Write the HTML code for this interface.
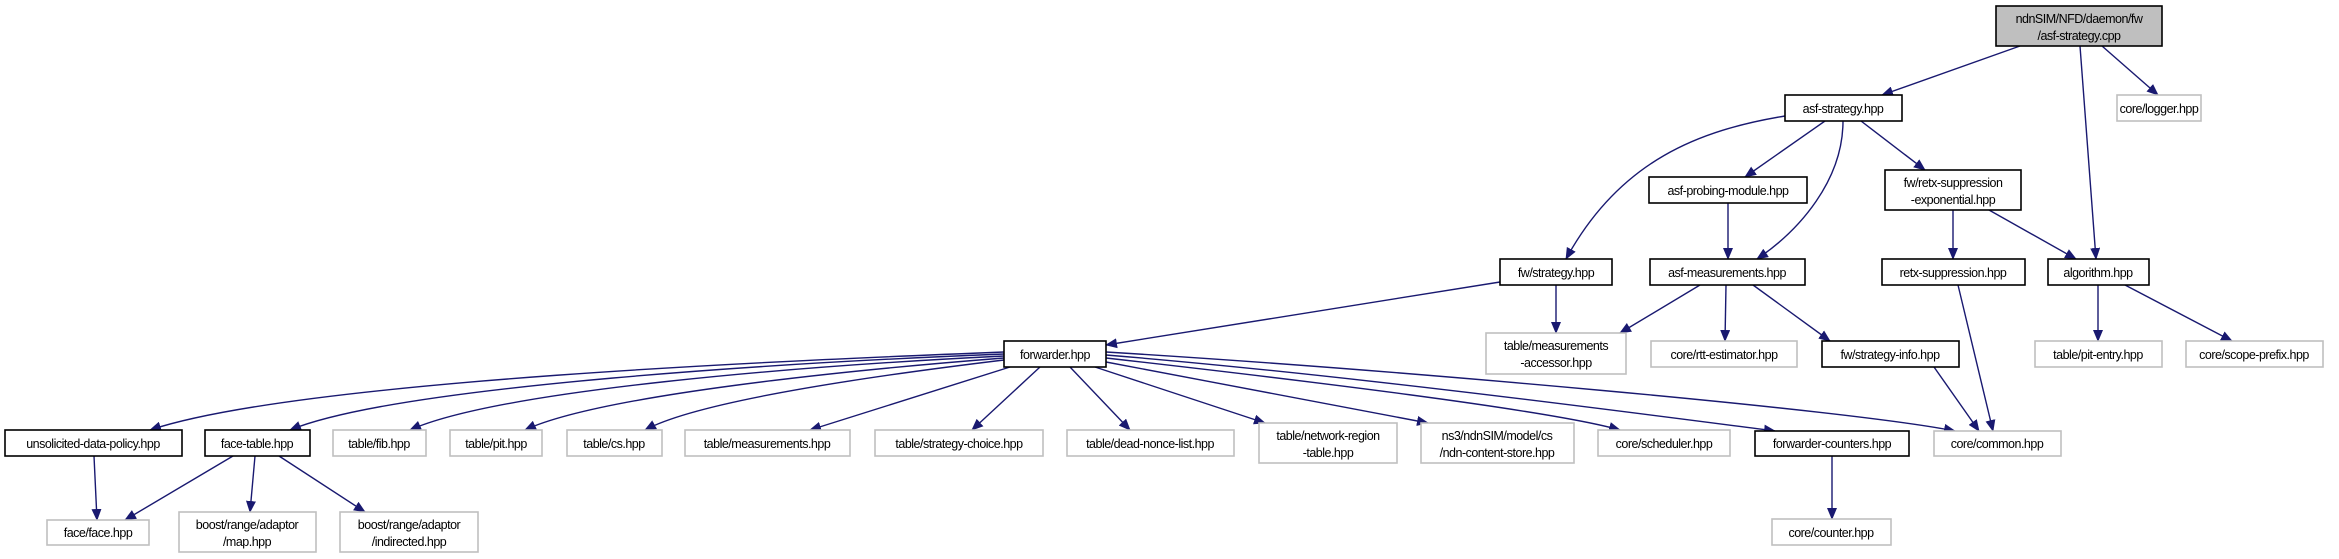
<!DOCTYPE html>
<html><head><meta charset="utf-8"><style>
html,body{margin:0;padding:0;background:#fff;}
svg{display:block;}
text{font-family:"Liberation Sans",sans-serif;font-size:12.5px;letter-spacing:-0.5px;fill:#000;text-anchor:middle;}
.b{fill:#fff;stroke:#000;stroke-width:1.6;}
.g{fill:#fff;stroke:#bfbfbf;stroke-width:1.6;}
.e{fill:none;stroke:#191970;stroke-width:1.4;}
</style></head><body>
<svg width="2339" height="559" viewBox="0 0 2339 559" xmlns="http://www.w3.org/2000/svg">
<defs><marker id="a" markerWidth="12" markerHeight="10" refX="11" refY="5" orient="auto" markerUnits="userSpaceOnUse"><path d="M0,0 L12,5 L0,10 z" fill="#191970"/></marker></defs>
<g class="e" marker-end="url(#a)">
<path d="M2020,46 L1882,95"/>
<path d="M2080,46 L2096,259"/>
<path d="M2102,46 L2158,95"/>
<path d="M1785,116 C1700,130 1620,160 1566,259"/>
<path d="M1825,121 L1745,177"/>
<path d="M1843,121 C1843,180 1800,230 1757,259"/>
<path d="M1861,121 L1925,170"/>
<path d="M1953,210 L1953,259"/>
<path d="M1989,210 L2076,259"/>
<path d="M1728,203 L1728,259"/>
<path d="M1500,282 L1106,345"/>
<path d="M1556,285 L1556,333"/>
<path d="M1700,285 L1620,333"/>
<path d="M1726,285 L1725,341"/>
<path d="M1753,285 L1830,341"/>
<path d="M1934,367 L1979,431"/>
<path d="M1958,285 L1993,431"/>
<path d="M2098,285 L2098,341"/>
<path d="M2125,285 L2232,341"/>
<path d="M1832,456 L1832,519"/>
<path d="M233,456 L125,520"/>
<path d="M255,456 L250,512"/>
<path d="M279,456 L365,512"/>
<path d="M94,456 L97,520"/>
<path d="M1004,352 C800,360 300,380 150,430"/>
<path d="M1004,354 C800,362 400,385 290,430"/>
<path d="M1004,356 C800,366 500,390 410,430"/>
<path d="M1004,358 C850,370 600,395 525,430"/>
<path d="M1004,360 C880,375 700,400 645,430"/>
<path d="M1010,367 L810,430"/>
<path d="M1040,367 L972,430"/>
<path d="M1070,367 L1130,430"/>
<path d="M1095,367 L1265,423"/>
<path d="M1106,362 L1428,423"/>
<path d="M1106,358 C1300,380 1550,410 1620,430"/>
<path d="M1106,355 C1350,375 1650,415 1775,431"/>
<path d="M1106,352 C1400,370 1850,410 1955,431"/>
</g>
<rect x="1996" y="6" width="166" height="40" fill="#bfbfbf" stroke="#000" stroke-width="1.6"/>
<text x="2079" y="23">ndnSIM/NFD/daemon/fw</text><text x="2079" y="40">/asf-strategy.cpp</text>
<rect class="b" x="1785" y="95" width="117" height="26"/><text x="1843" y="113">asf-strategy.hpp</text>
<rect class="g" x="2117" y="95" width="84" height="26"/><text x="2159" y="113">core/logger.hpp</text>
<rect class="b" x="1649" y="177" width="158" height="26"/><text x="1728" y="195">asf-probing-module.hpp</text>
<rect class="b" x="1885" y="170" width="136" height="40"/><text x="1953" y="187">fw/retx-suppression</text><text x="1953" y="204">-exponential.hpp</text>
<rect class="b" x="1500" y="259" width="112" height="26"/><text x="1556" y="277">fw/strategy.hpp</text>
<rect class="b" x="1650" y="259" width="155" height="26"/><text x="1727" y="277">asf-measurements.hpp</text>
<rect class="b" x="1882" y="259" width="143" height="26"/><text x="1953" y="277">retx-suppression.hpp</text>
<rect class="b" x="2048" y="259" width="101" height="26"/><text x="2098" y="277">algorithm.hpp</text>
<rect class="b" x="1004" y="341" width="102" height="26"/><text x="1055" y="359">forwarder.hpp</text>
<rect class="g" x="1486" y="333" width="140" height="41"/><text x="1556" y="350">table/measurements</text><text x="1556" y="367">-accessor.hpp</text>
<rect class="g" x="1651" y="341" width="146" height="26"/><text x="1724" y="359">core/rtt-estimator.hpp</text>
<rect class="b" x="1822" y="341" width="137" height="26"/><text x="1890" y="359">fw/strategy-info.hpp</text>
<rect class="g" x="2035" y="341" width="127" height="26"/><text x="2098" y="359">table/pit-entry.hpp</text>
<rect class="g" x="2186" y="341" width="137" height="26"/><text x="2254" y="359">core/scope-prefix.hpp</text>
<rect class="b" x="5" y="430" width="177" height="26"/><text x="93" y="448">unsolicited-data-policy.hpp</text>
<rect class="b" x="205" y="430" width="105" height="26"/><text x="257" y="448">face-table.hpp</text>
<rect class="g" x="333" y="430" width="93" height="26"/><text x="379" y="448">table/fib.hpp</text>
<rect class="g" x="450" y="430" width="92" height="26"/><text x="496" y="448">table/pit.hpp</text>
<rect class="g" x="567" y="430" width="95" height="26"/><text x="614" y="448">table/cs.hpp</text>
<rect class="g" x="685" y="430" width="165" height="26"/><text x="767" y="448">table/measurements.hpp</text>
<rect class="g" x="875" y="430" width="168" height="26"/><text x="959" y="448">table/strategy-choice.hpp</text>
<rect class="g" x="1067" y="430" width="167" height="26"/><text x="1150" y="448">table/dead-nonce-list.hpp</text>
<rect class="g" x="1259" y="423" width="138" height="40"/><text x="1328" y="440">table/network-region</text><text x="1328" y="457">-table.hpp</text>
<rect class="g" x="1421" y="423" width="153" height="40"/><text x="1497" y="440">ns3/ndnSIM/model/cs</text><text x="1497" y="457">/ndn-content-store.hpp</text>
<rect class="g" x="1598" y="430" width="132" height="26"/><text x="1664" y="448">core/scheduler.hpp</text>
<rect class="b" x="1755" y="431" width="154" height="25"/><text x="1832" y="448">forwarder-counters.hpp</text>
<rect class="g" x="1934" y="431" width="127" height="25"/><text x="1997" y="448">core/common.hpp</text>
<rect class="g" x="47" y="520" width="102" height="25"/><text x="98" y="537">face/face.hpp</text>
<rect class="g" x="179" y="512" width="137" height="40"/><text x="247" y="529">boost/range/adaptor</text><text x="247" y="546">/map.hpp</text>
<rect class="g" x="340" y="512" width="138" height="40"/><text x="409" y="529">boost/range/adaptor</text><text x="409" y="546">/indirected.hpp</text>
<rect class="g" x="1772" y="519" width="119" height="26"/><text x="1831" y="537">core/counter.hpp</text>
</svg>
</body></html>
